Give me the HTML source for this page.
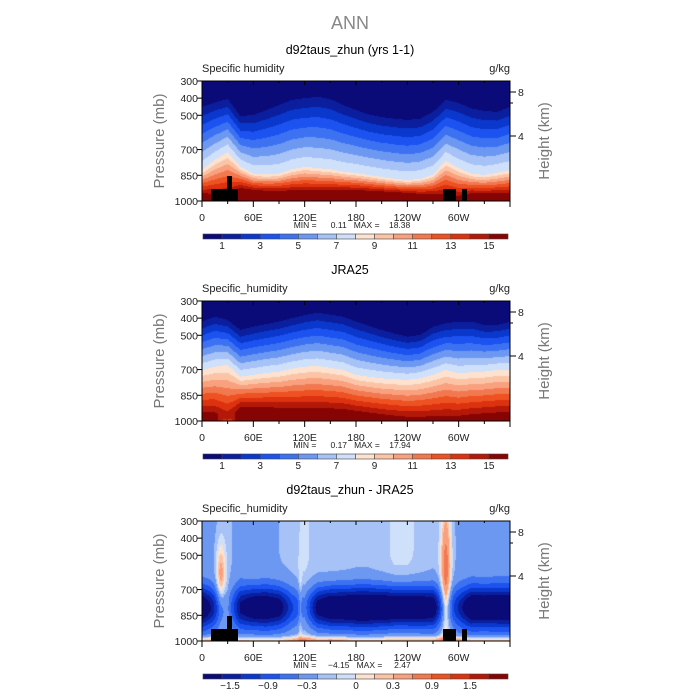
<!DOCTYPE html>
<html><head><meta charset="utf-8"><style>
html,body{margin:0;padding:0;background:#fff;width:700px;height:700px;overflow:hidden}
#wrap{position:relative;width:700px;height:700px}
canvas{position:absolute;left:202px;width:308px;height:120px}
svg{position:absolute;left:0;top:0}
text{font-family:"Liberation Sans",sans-serif}
</style></head><body>
<div id="wrap">
<canvas id="c0" width="308" height="120" style="top:81px"></canvas>
<canvas id="c1" width="308" height="120" style="top:301px"></canvas>
<canvas id="c2" width="308" height="120" style="top:521px"></canvas>
<svg id="s" width="700" height="700"></svg>
</div>
<script>
// ---- data ----
const lonStep = 15;
const p1Top = [450,425,405,505,498,470,440,410,400,392,405,440,469,495,510,520,527,520,480,410,428,460,475,480];
const p8Top = [819,760,714,800,840,845,840,815,800,808,815,828,837,848,860,870,878,870,845,765,808,840,848,835];
const p15Top = [953,960,960,924,935,940,940,938,936,936,936,936,936,940,944,948,952,958,960,960,970,955,955,955];
const qsTop = [17,15,14,17,17,17,17,17,17,17,17,17,17,17,17,17,17,17,17,15,15,17,17,17];
const p1Jra = [420,391,411,469,450,435,420,400,382,368,380,391,420,445,469,490,508,498,450,430,420,420,440,440];
const p8Jra = [702,683,673,741,731,720,712,695,683,679,690,702,731,742,751,756,760,751,730,702,722,715,712,702];
const p15Jra = [945,950,990,916,916,920,922,924,926,926,926,930,940,950,960,968,975,975,972,970,970,960,955,950];
const qsJra = [17,16,12,17,17,17,17,17,17,17,17,17,17,17,17,17,17,17,17,16,16,17,17,17];
const diffUpper = [-0.4,-0.35,-0.25,-0.4,-0.3,-0.35,-0.3,-0.25,-0.12,-0.2,-0.2,-0.22,-0.25,-0.25,-0.2,-0.12,-0.12,-0.18,-0.25,-0.2,-0.35,-0.4,-0.38,-0.4];
const diffBand = [-2.0,-1.2,-0.3,-1.5,-2.0,-2.0,-1.8,-1.0,-0.6,-1.8,-2.2,-2.2,-2.3,-2.3,-2.3,-2.3,-2.3,-2.2,-2.0,-0.5,-1.2,-2.0,-2.0,-2.0];
const diffSurface = [0.8,0.8,0.7,0.7,0.6,0.6,0.6,0.7,0.9,0.7,0.8,0.7,0.6,0.6,0.6,0.6,0.6,0.6,0.7,1.0,0.9,0.8,0.8,0.8];
const towerLon = [22,285,115];
const towerAmp = [0.75,1.0,0.3];
const towerP = [640,600,800];
const towerLonSpread = [4,4,1.5];
const towerPSpread = [150,250,200];
const levelsQ = [1,2,3,4,5,6,7,8,9,10,11,12,13,14,15];
const levelsD = [-1.8,-1.5,-1.2,-0.9,-0.6,-0.3,-0.15,0,0.15,0.3,0.6,0.9,1.2,1.5,1.8];
const palette = ['#0a0a78','#0a1e9e','#0a37cc','#1c52f0','#3c72f2','#6c98f2','#a6c2f6','#cfe0fa','#fde2d0','#fcc4a6','#f9a07e','#f27850','#ee5222','#dc3210','#b41808','#860404'];
const qLabels = ['1','3','5','7','9','11','13','15'];
const dLabels = ['\u22121.5','\u22120.9','\u22120.3','0','0.3','0.9','1.5'];
const pTicks = [300,400,500,700,850,1000];
const xTickLabels = ['0','60E','120E','180','120W','60W'];
const stats = [['0.11','18.38'],['0.17','17.94'],['\u22124.15','2.47']];

// ---- scales ----
const X0 = 202, W = 308, H = 120, tops = [81,301,521];
const yOfP = p => (p - 300) / 700 * H;
const xOfLon = l => l / 360 * W;
function at(arr, lon){
  const t = lon / lonStep, i = Math.floor(t) % arr.length, f = t - Math.floor(t);
  return arr[i] * (1 - f) + arr[(i + 1) % arr.length] * f;
}
function qProfile(p, a, b, c, qs){
  const P = [300, a, b, Math.min(c, 995), 1000], Q = [0.1, 1, 8, 15, qs];
  for (let i = 0; i < 4; i++) if (p <= P[i+1]) return Q[i] + (Q[i+1]-Q[i]) * (p - P[i]) / (P[i+1]-P[i]);
  return qs;
}
function diffVal(p, lon){
  let v = at(diffUpper, lon)
    + at(diffBand, lon) * Math.exp(-Math.pow((p - 805) / 85, 2) / 2)
    + at(diffSurface, lon) * Math.exp(-Math.pow((p - 1000) / 18, 2) / 2);
  for (let k = 0; k < towerLon.length; k++){
    const dl = lon - towerLon[k];
    v += towerAmp[k] * Math.exp(-dl*dl / (2*towerLonSpread[k]*towerLonSpread[k])) * Math.exp(-Math.pow(p - towerP[k], 2) / (2*towerPSpread[k]*towerPSpread[k]));
  }
  return v;
}
function hex(h){return [parseInt(h.slice(1,3),16),parseInt(h.slice(3,5),16),parseInt(h.slice(5,7),16)];}
const rgb = palette.map(hex);
function paint(id, fn, levels){
  const cv = document.getElementById(id), ctx = cv.getContext('2d');
  const img = ctx.createImageData(W, H);
  for (let py = 0; py < H; py++){
    const p = 300 + (py + 0.5) / H * 700;
    for (let px = 0; px < W; px++){
      const lon = (px + 0.5) / W * 360;
      const v = fn(p, lon);
      let idx = 0; while (idx < levels.length && v >= levels[idx]) idx++;
      const c = rgb[idx], o = (py*W + px)*4;
      img.data[o]=c[0]; img.data[o+1]=c[1]; img.data[o+2]=c[2]; img.data[o+3]=255;
    }
  }
  ctx.putImageData(img, 0, 0);
}
paint('c0', (p,l)=>qProfile(p, at(p1Top,l), at(p8Top,l), at(p15Top,l), at(qsTop,l)), levelsQ);
paint('c1', (p,l)=>qProfile(p, at(p1Jra,l), at(p8Jra,l), at(p15Jra,l), at(qsJra,l)), levelsQ);
paint('c2', diffVal, levelsD);

// ---- overlay ----
const svg = document.getElementById('s'), NS = 'http://www.w3.org/2000/svg';
function mk(tag, attrs, parent){
  const e = document.createElementNS(NS, tag);
  for (const k in attrs) e.setAttribute(k, attrs[k]);
  (parent || svg).appendChild(e); return e;
}
function txt(s, x, y, size, anchor, fill, extra){
  const t = mk('text', Object.assign({x:x, y:y, 'font-size':size, 'text-anchor':anchor||'start', fill:fill||'#000'}, extra||{}));
  t.textContent = s; return t;
}
let t = txt('ANN', 350, 29, 18, 'middle', '#888');



const titles = ['d92taus_zhun (yrs 1-1)', 'JRA25', 'd92taus_zhun - JRA25'];
const leftLabs = ['Specific humidity', 'Specific_humidity', 'Specific_humidity'];
const landBoxes = [[211,189,27,12],[227,176,5,25],[443,189,13,12],[462,189,5,12]];
for (let k = 0; k < 3; k++){
  const T = tops[k];
  const g = mk('g', {});
  
  
  t = txt(titles[k], 350, T - 27, 12.5, 'middle', '#000', {}); g.appendChild(t);
  
  
  t = txt(leftLabs[k], 202, T - 9, 11, 'start', '#222'); g.appendChild(t);
  
  
  t = txt('g/kg', 510, T - 9, 11, 'end', '#222'); g.appendChild(t);
  
  
  if (k !== 1){
    landBoxes.forEach(b => {
      const r = mk('rect', {x:b[0], y:b[1] - 81 + T, width:b[2], height:b[3], fill:'#000'}, g);
      
      
    });
  }
  const fr = mk('rect', {x:X0, y:T, width:W, height:H, fill:'none', stroke:'#000', 'stroke-width':1}, g);
  
  
  pTicks.forEach(p => {
    const y = T + yOfP(p);
    mk('line', {x1:X0-5, x2:X0, y1:y, y2:y, stroke:'#000'}, g);
    t = txt(String(p), 198, y + 4, 10.5, 'end', '#222'); g.appendChild(t);
    
    
  });
  for (let l = 0; l <= 360; l += 30){
    const x = X0 + xOfLon(l), major = l % 60 === 0;
    mk('line', {x1:x, x2:x, y1:T+H, y2:T+H+(major?6:3), stroke:'#000'}, g);
    mk('line', {x1:x, x2:x, y1:T, y2:T+(major?4:2), stroke:'#000'}, g);
    if (major && l < 360){
      t = txt(xTickLabels[l/60], x, T + H + 20, 10.5, 'middle', '#222'); g.appendChild(t);
      
      
    }
  }
  [[T+11,'8'],[T+55,'4']].forEach(h => {
    mk('line', {x1:X0+W, x2:X0+W+6, y1:h[0], y2:h[0], stroke:'#000'}, g);
    t = txt(h[1], 518, h[0] + 4, 10.5, 'start', '#222'); g.appendChild(t);
    
    
  });
  mk('line', {x1:X0+W, x2:X0+W+3, y1:T+22, y2:T+22, stroke:'#000'}, g);
  t = txt('Pressure (mb)', 0, 0, 15, 'middle', '#777', {transform:'translate(164,'+(T+60)+') rotate(-90)'}); g.appendChild(t);
  
  
  t = txt('Height (km)', 0, 0, 15, 'middle', '#777', {transform:'translate(549,'+(T+60)+') rotate(-90)'}); g.appendChild(t);
  
  
  t = txt('MIN = ' + stats[k][0].padStart(9,' ') + '   MAX = ' + stats[k][1].padStart(8,' '), 352, T + H + 27, 8.5, 'middle', '#222', {'xml:space':'preserve', style:'white-space:pre'}); g.appendChild(t);
  
  
  const cb = mk('g', {}, g);
  
  
  const cy = T + 153, bw = 305 / 16;
  palette.forEach((c, i) => {
    const r = mk('rect', {x:203 + i*bw, y:cy, width:bw, height:5, fill:c, stroke:'#444', 'stroke-width':0.6}, cb);
    
    
  });
  if (k < 2){
    qLabels.forEach((s, i) => {
      t = txt(s, 203 + (1 + 2*i)*bw, cy + 15, 10, 'middle', '#222'); cb.appendChild(t);
      
      
    });
  } else {
    const xs = [230,268,307,356,393,432,470];
    dLabels.forEach((s, i) => {
      t = txt(s, xs[i], cy + 15, 10, 'middle', '#222'); cb.appendChild(t);
      
      
    });
  }
}
</script>
</body></html>
